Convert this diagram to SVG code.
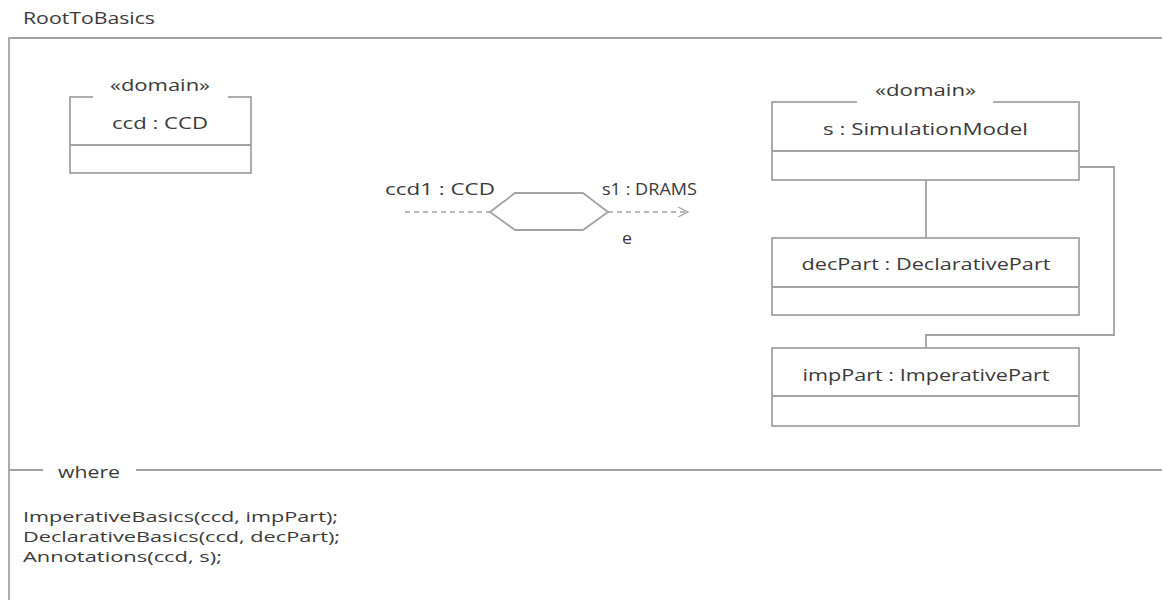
<svg xmlns="http://www.w3.org/2000/svg" width="1162" height="600" viewBox="0 0 1162 600">
<style>
text{font-family:"Open Sans","Noto Sans","Liberation Sans",sans-serif;font-size:17px;fill:#3a3a3a}
.code{font-size:15px}
.ln{fill:none;stroke:#a3a3a3;stroke-width:1.8}
.box{fill:#fff;stroke:#a3a3a3;stroke-width:1.8}
.c{text-anchor:middle}
.dash{fill:none;stroke:#a3a3a3;stroke-width:1.4;stroke-dasharray:5 4}
</style>
<defs>
<marker id="open" viewBox="0 0 12 12" refX="11" refY="6" markerWidth="12" markerHeight="12" markerUnits="userSpaceOnUse" orient="auto">
<path d="M1 1 L11 6 L1 11" fill="none" stroke="#a3a3a3" stroke-width="1.3"/>
</marker>
</defs>
<rect width="1162" height="600" fill="#fff"/>
<g id="frame">
<text x="23" y="24" textLength="132" lengthAdjust="spacingAndGlyphs">RootToBasics</text>
<path class="ln" d="M1162 38 H9 V600"/>
<path class="ln" d="M9 470 H43 M136 470 H1162"/>
<text x="58" y="478" textLength="62" lengthAdjust="spacingAndGlyphs">where</text>
<text class="code" x="23" y="522" textLength="315" lengthAdjust="spacingAndGlyphs">ImperativeBasics(ccd, impPart);</text>
<text class="code" x="23" y="542" textLength="317" lengthAdjust="spacingAndGlyphs">DeclarativeBasics(ccd, decPart);</text>
<text class="code" x="23" y="562" textLength="199" lengthAdjust="spacingAndGlyphs">Annotations(ccd, s);</text>
</g>
<g id="connectors">
<path class="ln" d="M926 180 V238"/>
<path class="ln" d="M1079 167 H1114 V335 H926 V348"/>
<path class="dash" d="M405 212 H490"/>
<path class="dash" d="M608 212 H688" marker-end="url(#open)"/>
</g>
<g id="ccd">
<rect class="box" x="70" y="97" width="181" height="76"/>
<line class="ln" x1="70" y1="145" x2="251" y2="145"/>
<rect x="93" y="62" width="135" height="38" fill="#fff"/>
<text class="c" x="160" y="91" textLength="100" lengthAdjust="spacingAndGlyphs">«domain»</text>
<text class="c" x="160" y="129" textLength="96" lengthAdjust="spacingAndGlyphs">ccd : CCD</text>
</g>
<g id="s">
<rect class="box" x="772" y="102" width="307" height="78"/>
<line class="ln" x1="772" y1="151" x2="1079" y2="151"/>
<rect x="857" y="66" width="136" height="38" fill="#fff"/>
<text class="c" x="925.5" y="96" textLength="101" lengthAdjust="spacingAndGlyphs">«domain»</text>
<text class="c" x="925.5" y="135" textLength="205" lengthAdjust="spacingAndGlyphs">s : SimulationModel</text>
</g>
<g id="decPart">
<rect class="box" x="772" y="238" width="307" height="77"/>
<line class="ln" x1="772" y1="287" x2="1079" y2="287"/>
<text class="c" x="926" y="270" textLength="249" lengthAdjust="spacingAndGlyphs">decPart : DeclarativePart</text>
</g>
<g id="impPart">
<rect class="box" x="772" y="348" width="307" height="78"/>
<line class="ln" x1="772" y1="396" x2="1079" y2="396"/>
<text class="c" x="926" y="381" textLength="247" lengthAdjust="spacingAndGlyphs">impPart : ImperativePart</text>
</g>
<g id="e">
<polygon class="box" points="490,212 515,193 583,193 608,212 583,230 515,230"/>
<text x="385" y="195" textLength="110" lengthAdjust="spacingAndGlyphs">ccd1 : CCD</text>
<text x="602" y="195" textLength="95" lengthAdjust="spacingAndGlyphs">s1 : DRAMS</text>
<text x="622" y="244" textLength="10" lengthAdjust="spacingAndGlyphs">e</text>
</g>
</svg>
